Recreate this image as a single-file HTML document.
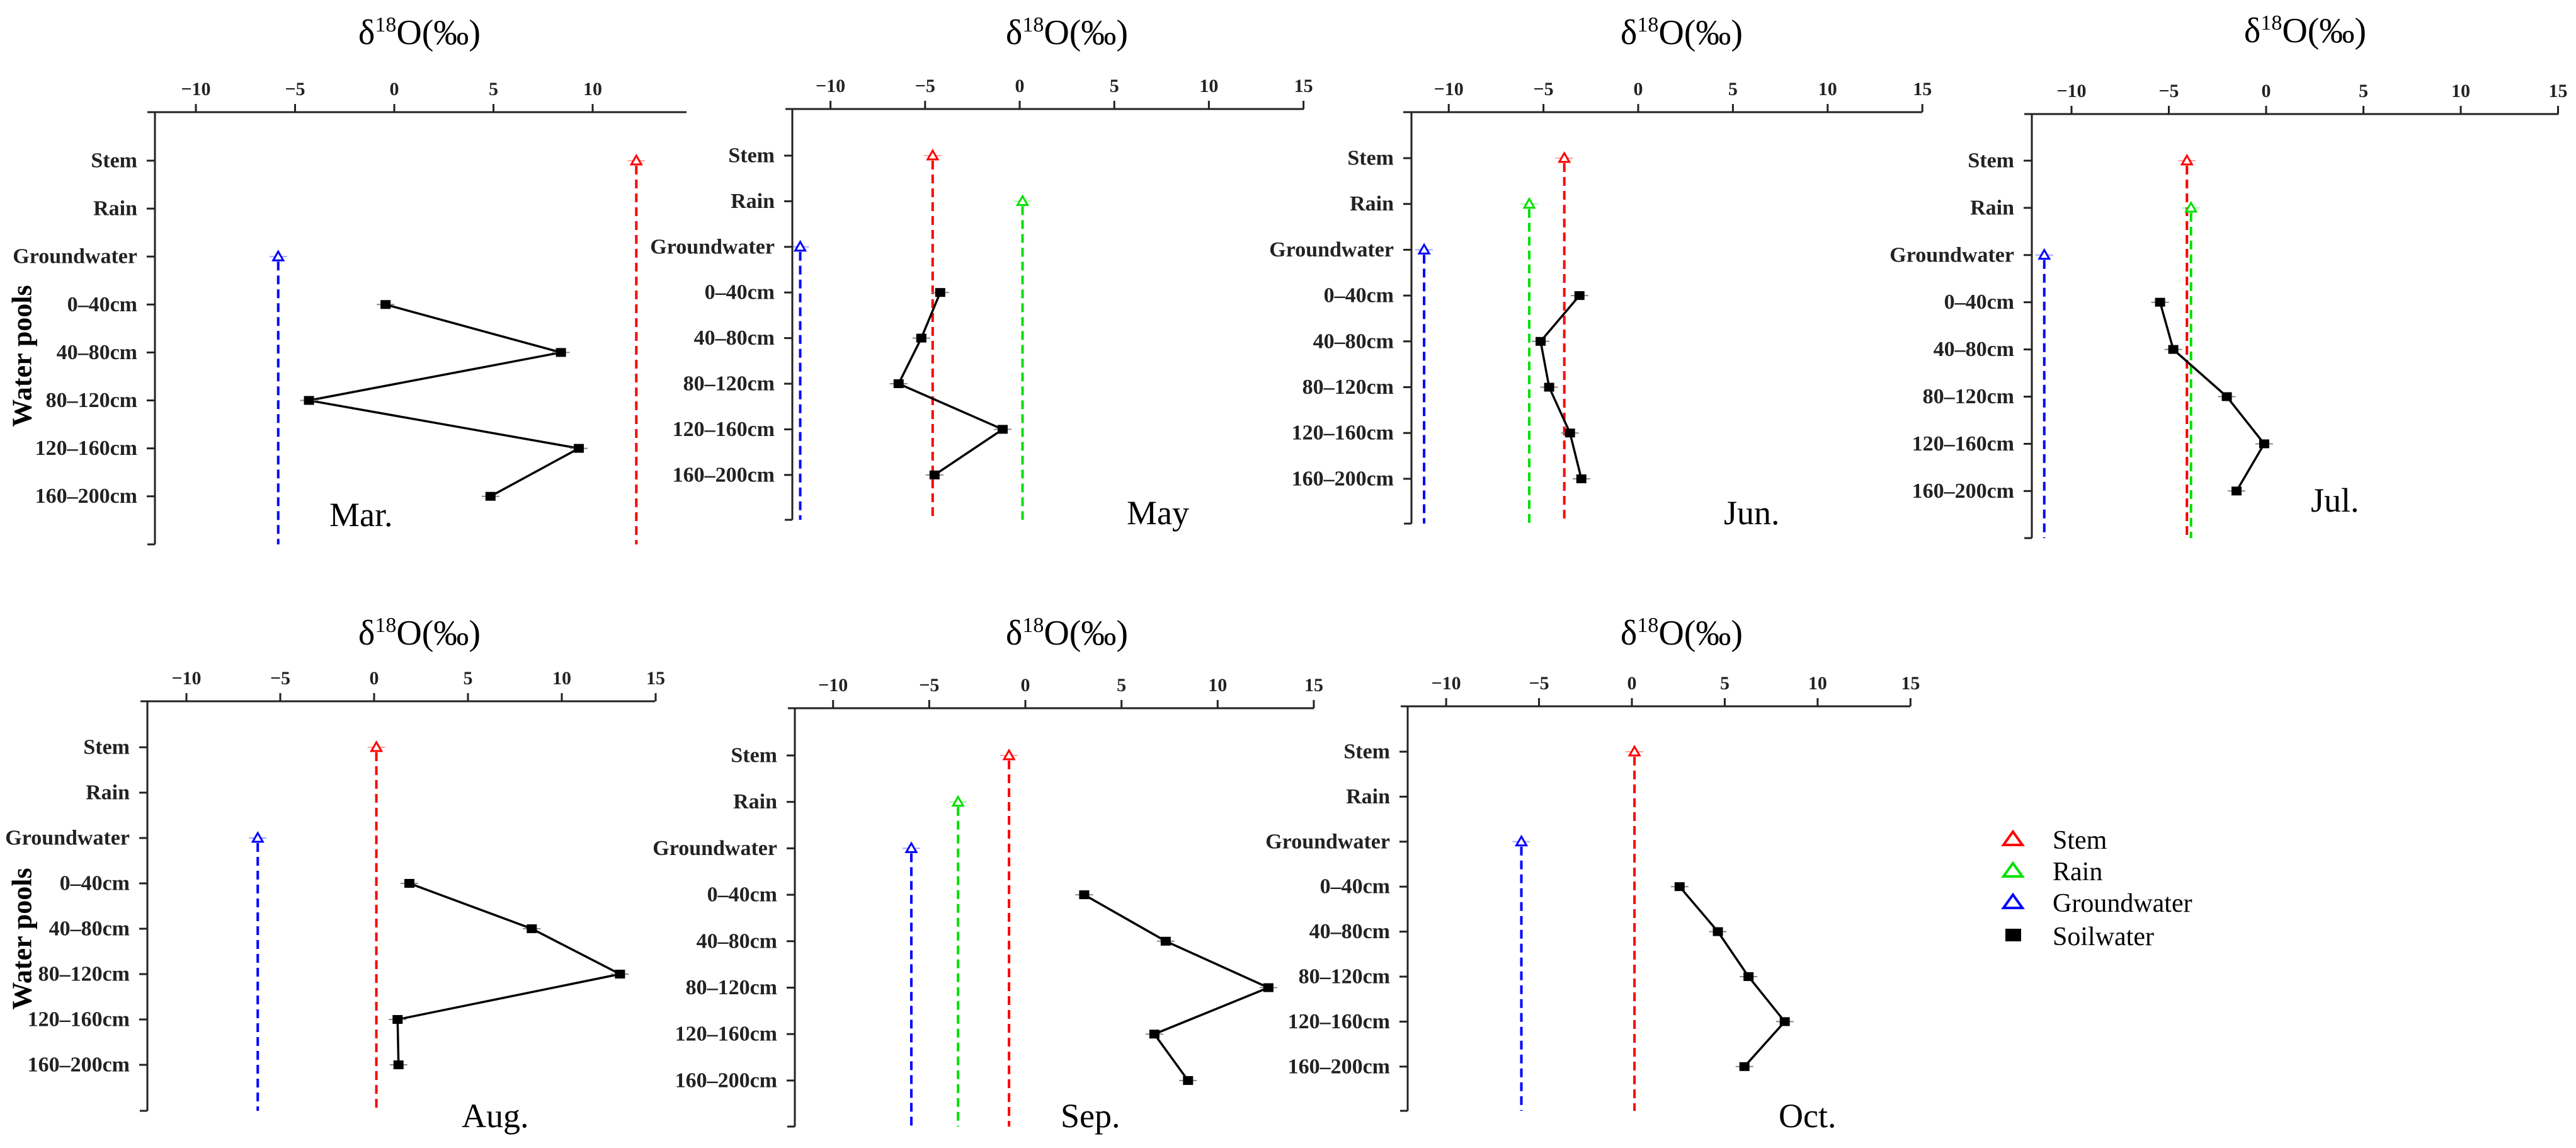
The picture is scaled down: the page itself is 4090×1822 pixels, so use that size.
<!DOCTYPE html>
<html><head><meta charset="utf-8"><style>
html,body{margin:0;padding:0;background:#fff;}
svg{display:block;font-family:"Liberation Serif",serif;}
</style></head><body>
<svg id="chart" width="4090" height="1822" viewBox="0 0 4090 1822" xmlns="http://www.w3.org/2000/svg">
<rect x="0" y="0" width="4090" height="1822" fill="#fff"/>
<text x="35" y="565" transform="rotate(-90 35 565)" text-anchor="middle" dominant-baseline="central" font-weight="bold" font-size="44">Water pools</text>
<text x="35" y="1490" transform="rotate(-90 35 1490)" text-anchor="middle" dominant-baseline="central" font-weight="bold" font-size="44">Water pools</text>
<g>
<polygon points="3196,1320 3211,1341 3181,1341" fill="none" stroke="#ff0000" stroke-width="4"/>
<text x="3259" y="1347" font-size="42">Stem</text>
<polygon points="3196,1370 3211,1391 3181,1391" fill="none" stroke="#00e000" stroke-width="4"/>
<text x="3259" y="1397" font-size="42">Rain</text>
<polygon points="3196,1420 3211,1441 3181,1441" fill="none" stroke="#0000ff" stroke-width="4"/>
<text x="3259" y="1447" font-size="42">Groundwater</text>
<rect x="3184" y="1474" width="25" height="20" fill="#000"/>
<text x="3259" y="1500" font-size="42">Soilwater</text>
</g>
</svg>
<script>
const categories = ["Stem","Rain","Groundwater","0–40cm","40–80cm","80–120cm","120–160cm","160–200cm"];
const months = ["Mar.","May","Jun.","Jul.","Aug.","Sep.","Oct."];
const stemValues = [12.2, -4.6, -3.9, -4.07, 0.12, -0.85, 0.14];
const rainValues = [null, 0.15, -5.75, -3.86, null, -3.5, null];
const groundwaterValues = [-5.85, -11.6, -11.3, -11.4, -6.2, -5.93, -5.95];
const soilMar = [-0.44, 8.4, -4.3, 9.3, 4.85];
const soilMay = [-4.2, -5.2, -6.4, -0.9, -4.5];
const soilJun = [-3.1, -5.15, -4.7, -3.6, -3.0];
const soilJul = [-5.45, -4.77, -2.02, -0.1, -1.52];
const soilAug = [1.88, 8.4, 13.1, 1.25, 1.3];
const soilSep = [3.06, 7.3, 12.64, 6.71, 8.46];
const soilOct = [2.57, 4.63, 6.28, 8.23, 6.06];
const soilSeries = [soilMar, soilMay, soilJun, soilJul, soilAug, soilSep, soilOct];
const tickValues = [-10, -5, 0, 5, 10, 15];

const layouts = [
 {left:246,start:234,end:1090,top:178,bottom:864,stem:255,gap:76.1,zero:626,unit:31.5,maxTick:10,tx:666,ty:70,mx:523,my:835},
 {left:1258,start:1247,end:2070,top:173,bottom:825,stem:247,gap:72.4,zero:1619,unit:30.04,maxTick:15,tx:1694,ty:70,mx:1789,my:832},
 {left:2241,start:2228,end:3052,top:178,bottom:831,stem:251,gap:72.7,zero:2601,unit:30.08,maxTick:15,tx:2670,ty:70,mx:2737,my:832},
 {left:3226,start:3214,end:4062,top:181,bottom:854,stem:255,gap:74.9,zero:3598,unit:30.9,maxTick:15,tx:3660,ty:67,mx:3669,my:812},
 {left:234,start:223,end:1040,top:1113,bottom:1763,stem:1186,gap:72,zero:594,unit:29.8,maxTick:15,tx:666,ty:1023,mx:733,my:1789},
 {left:1262,start:1251,end:2086,top:1124,bottom:1788,stem:1199,gap:73.7,zero:1628,unit:30.53,maxTick:15,tx:1694,ty:1023,mx:1684,my:1789},
 {left:2235,start:2224,end:3033,top:1121,bottom:1763,stem:1193,gap:71.4,zero:2591,unit:29.49,maxTick:15,tx:2670,ty:1023,mx:2824,my:1789}
];

const svg = document.getElementById('chart');
const NS = 'http://www.w3.org/2000/svg';
function mk(tag, attrs, parent){
  const e = document.createElementNS(NS, tag);
  for (const k in attrs) e.setAttribute(k, attrs[k]);
  parent.appendChild(e);
  return e;
}

layouts.forEach((L, p) => {
  const xs = v => L.zero + v * L.unit;
  const ys = i => L.stem + i * L.gap;
  const g = mk('g', {}, svg);
  
  

  const title = mk('text', {x:L.tx, y:L.ty, 'text-anchor':'middle', 'font-size':56}, g);
  
  
  title.innerHTML = 'δ<tspan font-size="34" dy="-20">18</tspan><tspan dy="20">O(‰)</tspan>';

  const xa = mk('line', {x1:L.start, y1:L.top, x2:L.end, y2:L.top, stroke:'#222', 'stroke-width':3}, g);
  
  
  const ya = mk('line', {x1:L.left, y1:L.top, x2:L.left, y2:L.bottom, stroke:'#222', 'stroke-width':3}, g);
  
  
  const yb = mk('line', {x1:L.left-12, y1:L.bottom, x2:L.left, y2:L.bottom, stroke:'#222', 'stroke-width':3}, g);
  
  

  tickValues.forEach(t => {
    if (t > L.maxTick) return;
    const x = xs(t);
    const tk = mk('line', {x1:x, y1:L.top, x2:x, y2:L.top-13, stroke:'#222', 'stroke-width':3}, g);
    
    
    const tl = mk('text', {x:x, y:L.top-27, 'text-anchor':'middle', 'font-size':30, 'font-weight':'bold', fill:'#222'}, g);
    
    
    tl.textContent = t < 0 ? '−' + Math.abs(t) : String(t);
  });

  categories.forEach((c, i) => {
    const y = ys(i);
    const tk = mk('line', {x1:L.left-13, y1:y, x2:L.left, y2:y, stroke:'#222', 'stroke-width':3}, g);
    
    
    const tl = mk('text', {x:L.left-28, y:y, 'text-anchor':'end', 'dominant-baseline':'central', 'font-size':34, 'font-weight':'bold', fill:'#222'}, g);
    
    
    tl.textContent = c;
  });

  const refs = [[stemValues[p], 0, '#ff0000', 'stem'], [rainValues[p], 1, '#00e000', 'rain'], [groundwaterValues[p], 2, '#0000ff', 'groundwater']];
  refs.forEach(r => {
    const v = r[0];
    if (v === null) return;
    const x = xs(v), y = ys(r[1]);
    const ln = mk('line', {x1:x, y1:y+8, x2:x, y2:L.bottom, stroke:r[2], 'stroke-width':4, 'stroke-dasharray':'14 8'}, g);
    
    
    const eb = mk('line', {x1:x-14, y1:y, x2:x+14, y2:y, stroke:r[2], 'stroke-opacity':0.35, 'stroke-width':2}, g);
    
    
    const tri = mk('polygon', {points:`${x},${y-8} ${x+8},${y+6} ${x-8},${y+6}`, fill:'#fff', stroke:r[2], 'stroke-width':3}, g);
    
    
  });

  const soil = soilSeries[p];
  const pts = soil.map((v, i) => xs(v) + ',' + ys(i + 3)).join(' ');
  const pl = mk('polyline', {points:pts, fill:'none', stroke:'#000', 'stroke-width':3.5}, g);
  
  
  soil.forEach((v, i) => {
    const x = xs(v), y = ys(i + 3);
    const eb = mk('line', {x1:x-14, y1:y, x2:x+14, y2:y, stroke:'#888', 'stroke-width':2}, g);
    
    
    const sq = mk('rect', {x:x-8, y:y-7, width:16, height:14, fill:'#000'}, g);
    
    
  });

  const ml = mk('text', {x:L.mx, y:L.my, 'font-size':54}, g);
  
  
  ml.textContent = months[p];
});
</script>
</body></html>
